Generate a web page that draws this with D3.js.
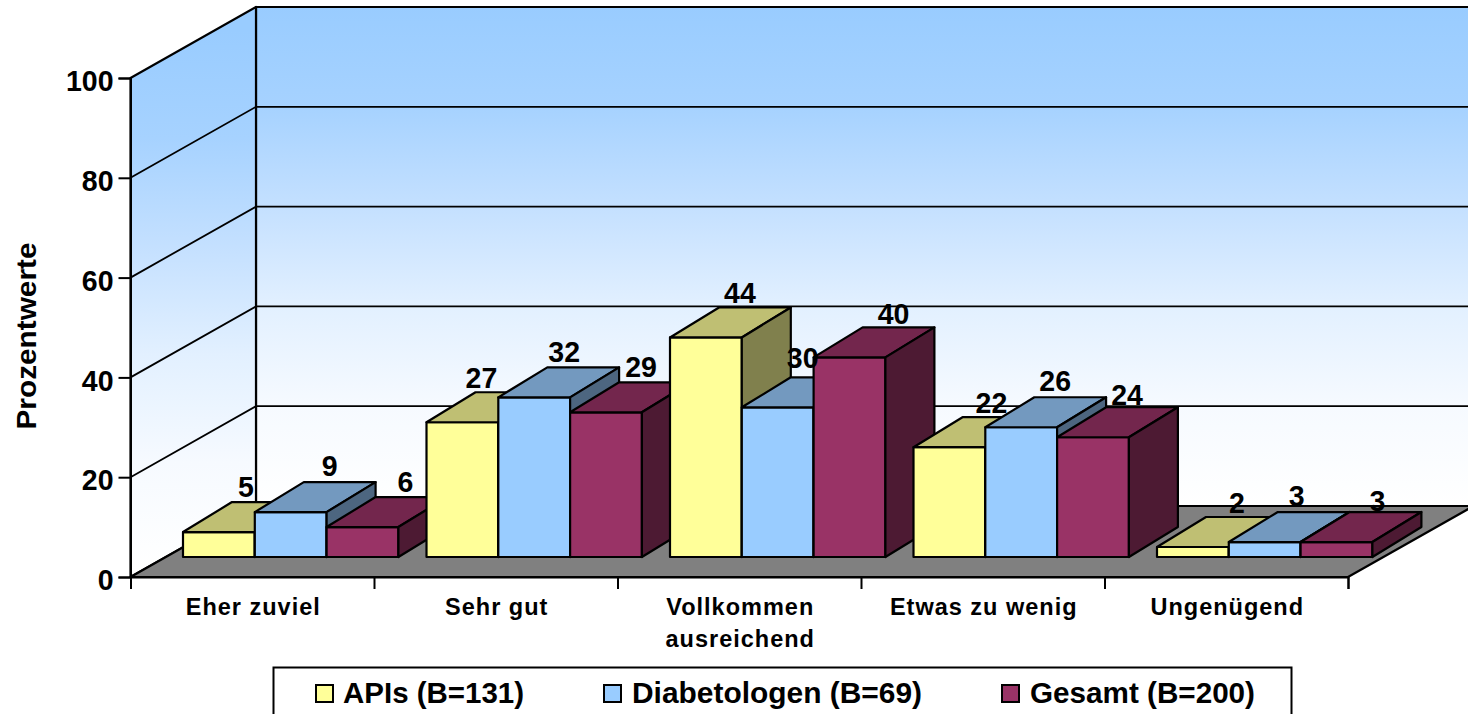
<!DOCTYPE html>
<html><head><meta charset="utf-8">
<script src="https://cdn.jsdelivr.net/npm/d3@7"></script>
<style>html,body{margin:0;background:#fff;overflow:hidden}svg{display:block}text{font-family:"Liberation Sans",Arial,sans-serif;font-weight:bold;fill:#000}</style>
</head><body><svg id="c" width="1468" height="714"></svg>
<script>
const categories=[["Eher zuviel"],["Sehr gut"],["Vollkommen","ausreichend"],["Etwas zu wenig"],["Ungenügend"]];
const seriesNames=["APIs (B=131)","Diabetologen (B=69)","Gesamt (B=200)"];
const apis=[5,27,44,22,2];
const diabetologen=[9,32,30,26,3];
const gesamt=[6,29,40,24,3];
const yTicks=[0,20,40,60,80,100];
const seriesValues=[apis,diabetologen,gesamt];
const fills=[["#ffff99","#bfbf73","#80804d"],["#99ccff","#7399bf","#4d6680"],["#993366","#73264d","#4d1a33"]];
const wallStops=["#99ccff","#a6d2ff","#c4e0ff","#e2f0ff","#f6faff","#ffffff"];
// small hand nudges of the value labels, as in the source chart
const nudgeX=[[-22,-10,-6],[-30,-19,-14],[-15,-24,-5],[-7,-15,-15],[-5,-17,-8]];
const nudgeY=[[1,0,1],[2,1,1],[2,-3,3],[2,0,4],[2,0,5]];
const svg=d3.select("#c"),defs=svg.append("defs");
const x0=130.5,x1=1348,DX=125.5,DY=71;
const y=d3.scaleLinear().domain([0,100]).range([577,78]);
const xEdge=d3.scaleLinear().domain([0,5]).range([x0,x1]);
const barW=71.8,barDX=49,barDY=30,startX=52.5,liftY=20,sq=0.95;
const poly=(pts,f,sw=2.2)=>svg.append("polygon").attr("points",pts.map(p=>p.join(",")).join(" ")).attr("fill",f).attr("stroke","#000").attr("stroke-width",sw).attr("stroke-linejoin","round");
// narrow the glyphs a little: the reference text is taller than its width suggests
const squeeze=(sel,k=sq)=>sel.each(function(){this.setAttribute("textLength",this.getComputedTextLength()*k);this.setAttribute("lengthAdjust","spacingAndGlyphs");});
function grad(id,y1,y2){const g=defs.append("linearGradient").attr("id",id).attr("gradientUnits","userSpaceOnUse").attr("x1",0).attr("x2",0).attr("y1",y1).attr("y2",y2);
 wallStops.forEach((c,i)=>g.append("stop").attr("offset",i/(wallStops.length-1)).attr("stop-color",c));}
grad("gb",y(100)-DY,y(0)-DY);grad("gs",30,570);
// walls
poly([[x0+DX,y(100)-DY],[x1+DX,y(100)-DY],[x1+DX,y(0)-DY],[x0+DX,y(0)-DY]],"url(#gb)");
poly([[x0,y(100)],[x0+DX,y(100)-DY],[x0+DX,y(0)-DY],[x0,y(0)]],"url(#gs)");
// gridlines
yTicks.filter(t=>t>0&&t<100).forEach(t=>{
 svg.append("path").attr("d",d3.line()([[x0,y(t)],[x0+DX,y(t)-DY],[x1+DX,y(t)-DY]])).attr("fill","none").attr("stroke","#000").attr("stroke-width",1.8);
});
// floor
poly([[x0,y(0)],[x1,y(0)],[x1+DX,y(0)-DY],[x0+DX,y(0)-DY]],"#808080");
// axes
const ya=svg.append("g").attr("transform",`translate(${x0},0)`).call(d3.axisLeft(y).tickValues(yTicks).tickSize(12).tickPadding(5));
ya.select(".domain").attr("stroke","#000").attr("stroke-width",2);
ya.selectAll(".tick line").attr("stroke","#000").attr("stroke-width",2);
ya.selectAll("text").attr("font-size",30).attr("dy",".42em");
squeeze(ya.selectAll("text"));
const xa=svg.append("g").attr("transform",`translate(0,${y(0)})`).call(d3.axisBottom(xEdge).tickValues(d3.range(6)).tickSize(12).tickFormat(""));
xa.select(".domain").attr("stroke","#000").attr("stroke-width",2);
xa.selectAll(".tick line").attr("stroke","#000").attr("stroke-width",2);
// bars
categories.forEach((c,i)=>{
 seriesValues.forEach((vals,s)=>{
  const v=vals[i],l=xEdge(i)+startX+s*barW,r=l+barW,t=y(v)-liftY,b=y(0)-liftY,f=fills[s];
  poly([[l,t],[r,t],[r,b],[l,b]],f[0]);
  poly([[l,t],[l+barDX,t-barDY],[r+barDX,t-barDY],[r,t]],f[1]);
  poly([[r,t],[r+barDX,t-barDY],[r+barDX,b-barDY],[r,b]],f[2]);
 });
});
// value labels
categories.forEach((c,i)=>{
 seriesValues.forEach((vals,s)=>{
  const v=vals[i],l=xEdge(i)+startX+s*barW;
  const lab=svg.append("text").attr("x",l+barW/2+barDX+nudgeX[i][s]).attr("y",y(v)-liftY-barDY-6+nudgeY[i][s]).attr("text-anchor","middle").attr("font-size",30).text(v);
  squeeze(lab);
 });
});
// category labels
categories.forEach((c,i)=>{
 c.forEach((line,j)=>svg.append("text").attr("x",xEdge(i+.5)+1).attr("y",615+j*32).attr("text-anchor","middle").attr("font-size",23.5).attr("letter-spacing",1).text(line));
});
// y title
svg.append("text").attr("transform","translate(36,336) rotate(-90)").attr("text-anchor","middle").attr("font-size",27).attr("textLength",187).attr("lengthAdjust","spacingAndGlyphs").text("Prozentwerte");
// legend
svg.append("rect").attr("x",273.5).attr("y",667.5).attr("width",1018).attr("height",60).attr("fill","#fff").attr("stroke","#000").attr("stroke-width",2);
const swX=[316,604,1002],txtX=[343,632,1030],txtL=[181,290,225];
seriesNames.forEach((n,s)=>{
 svg.append("rect").attr("x",swX[s]).attr("y",685).attr("width",17).attr("height",17).attr("fill",fills[s][0]).attr("stroke","#000").attr("stroke-width",2);
 svg.append("text").attr("x",txtX[s]).attr("y",703).attr("font-size",29).attr("textLength",txtL[s]).attr("lengthAdjust","spacingAndGlyphs").text(n);
});
</script></body></html>
